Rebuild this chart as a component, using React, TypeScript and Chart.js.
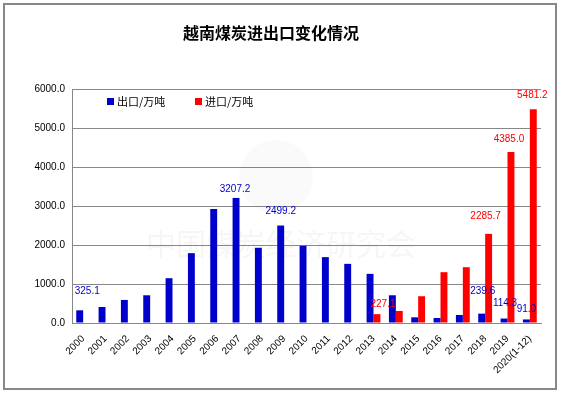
import { useEffect, useRef } from 'react';
import { Chart, registerables } from 'chart.js';

Chart.register(...registerables);

const chartTitle = '越南煤炭进出口变化情况';
const watermarkText = '中国煤炭经济研究会';
const seriesNames = ['出口/万吨', '进口/万吨'];
const categories = [
  '2000', '2001', '2002', '2003', '2004', '2005', '2006', '2007', '2008', '2009', '2010',
  '2011', '2012', '2013', '2014', '2015', '2016', '2017', '2018', '2019', '2020(1-12)',
];
const exportValues = [
  325.1, 411, 591, 711, 1149, 1791, 2923, 3207.2, 1929, 2499.2, 1980,
  1689, 1517, 1260, 711, 146, 129, 206, 239.6, 114.3, 91.0,
];
const importValues = [
  0, 0, 0, 0, 0, 0, 0, 0, 0, 0, 0,
  0, 0, 227.1, 309, 686, 1303, 1431, 2285.7, 4385.0, 5481.2,
];
const yTicks = [0, 1000, 2000, 3000, 4000, 5000, 6000];
const exportLabelIndexes = [0, 7, 9, 18, 19, 20];
const importLabelIndexes = [13, 18, 19, 20];

const BLUE = '#0000CC';
const RED = '#FF0000';

// label offsets (relative to bar top centre) for the manually placed data labels
const exportLabelOffsets: Record<number, [number, number]> = {
  0: [7.5, -19], 7: [-1, -8.5], 9: [0, -14], 18: [1, -22], 19: [1, -15], 20: [0, -10],
};
const importLabelOffsets: Record<number, [number, number]> = {
  13: [6, -10], 18: [-3, -18], 19: [-2, -13], 20: [-1, -14],
};

export default function App() {
  const ref = useRef<HTMLCanvasElement>(null);

  useEffect(() => {
    document.body.style.margin = '0';
    const decor = {
      id: 'decor',
      beforeDatasetsDraw(chart: any) {
        const ctx = chart.ctx;
        ctx.save();
        ctx.fillStyle = 'rgba(0,0,0,0.02)';
        ctx.beginPath();
        ctx.arc(276, 177, 37, 0, Math.PI * 2);
        ctx.fill();
        ctx.fillStyle = 'rgba(0,0,0,0.035)';
        ctx.font = '30px "Noto Sans CJK SC"';
        ctx.textAlign = 'center';
        ctx.textBaseline = 'middle';
        ctx.fillText(watermarkText, 281, 244);
        ctx.restore();
      },
      afterDraw(chart: any) {
        const ctx = chart.ctx;
        ctx.save();
        // border
        ctx.strokeStyle = '#888888';
        ctx.lineWidth = 2;
        ctx.strokeRect(4, 4, 552, 385);
        // title
        ctx.fillStyle = '#000';
        ctx.font = 'bold 16px "Noto Sans CJK SC"';
        ctx.textAlign = 'center';
        ctx.textBaseline = 'middle';
        ctx.fillText(chartTitle, 271, 33);
        // legend
        ctx.font = '11px "Noto Sans CJK SC"';
        ctx.textAlign = 'left';
        ctx.fillStyle = BLUE;
        ctx.fillRect(107, 98, 7, 7);
        ctx.fillStyle = '#000';
        ctx.fillText(seriesNames[0], 117, 102);
        ctx.fillStyle = RED;
        ctx.fillRect(195, 98, 7, 7);
        ctx.fillStyle = '#000';
        ctx.fillText(seriesNames[1], 205, 102);
        // data labels
        ctx.font = '10px "Liberation Sans"';
        ctx.textAlign = 'center';
        const drawLabels = (di: number, idxs: number[], vals: number[], offs: Record<number, [number, number]>, color: string) => {
          const meta = chart.getDatasetMeta(di);
          ctx.fillStyle = color;
          idxs.forEach((i) => {
            const el = meta.data[i];
            const [dx, dy] = offs[i] || [0, -8];
            ctx.fillText(vals[i].toFixed(1), el.x + dx, el.y + dy);
          });
        };
        drawLabels(0, exportLabelIndexes, exportValues, exportLabelOffsets, BLUE);
        drawLabels(1, importLabelIndexes, importValues, importLabelOffsets, RED);
        ctx.restore();
      },
    };

    const chart = new Chart(ref.current!, {
      type: 'bar',
      data: {
        labels: categories,
        datasets: [
          { label: seriesNames[0], data: exportValues, backgroundColor: BLUE, categoryPercentage: 0.62, barPercentage: 1 },
          { label: seriesNames[1], data: importValues, backgroundColor: RED, categoryPercentage: 0.62, barPercentage: 1 },
        ],
      },
      options: {
        animation: false,
        responsive: false,
        maintainAspectRatio: false,
        layout: { padding: { top: 89, right: 21, left: 0, bottom: 0 } },
        plugins: {
          legend: { display: false },
          title: { display: false },
          tooltip: { enabled: false },
        },
        scales: {
          x: {
            grid: { display: false },
            border: { display: true, color: '#888888' },
            ticks: {
              minRotation: 45,
              maxRotation: 45,
              autoSkip: false,
              color: '#000',
              padding: 2,
              font: { family: 'Liberation Sans', size: 10 },
            },
            afterFit: (s: any) => { s.height = 72; },
          },
          y: {
            min: 0,
            max: 6000,
            afterBuildTicks: (s: any) => { s.ticks = yTicks.map((v) => ({ value: v })); },
            ticks: {
              color: '#000',
              padding: 7,
              font: { family: 'Liberation Sans', size: 10 },
              callback: (v: any) => Number(v).toFixed(1),
            },
            grid: { color: '#888888', drawTicks: false },
            border: { color: '#888888' },
            afterFit: (s: any) => { s.width = 72; },
          },
        },
      },
      plugins: [decor],
    });
    return () => chart.destroy();
  }, []);

  return (
    <div style={{ width: 562, height: 395 }}>
      <canvas ref={ref} width={562} height={395} style={{ display: 'block' }} />
    </div>
  );
}
